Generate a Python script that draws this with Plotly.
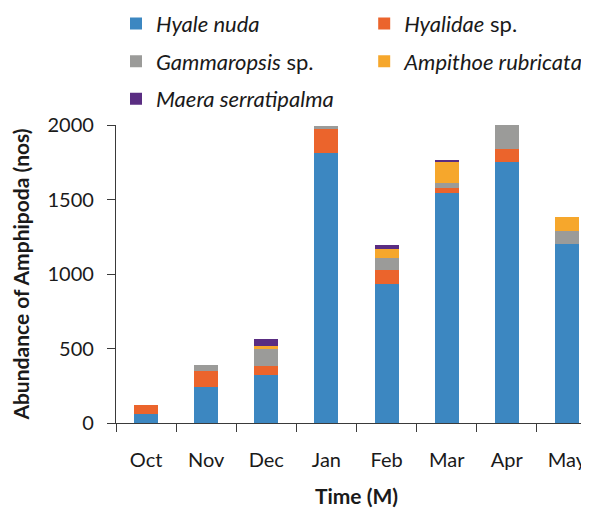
import plotly.graph_objects as go

months = ["Oct", "Nov", "Dec", "Jan", "Feb", "Mar", "Apr", "May"]

hyale_nuda = [60, 240, 320, 1810, 930, 1545, 1755, 1200]
hyalidae_sp = [60, 110, 60, 160, 100, 35, 85, 0]
gammaropsis_sp = [0, 40, 120, 25, 80, 30, 160, 90]
ampithoe_rubricata = [0, 0, 15, 0, 60, 143, 0, 95]
maera_serratipalma = [0, 0, 50, 0, 25, 14, 0, 0]

y_ticks = [0, 500, 1000, 1500, 2000]

FONT = "Lato"
TXT = "#1a1a1a"
AX = "#3a3a3a"
TICK_FS = 20
TITLE_FS = 21
LEG_FS = 22

series = [
    ("<i>Hyale nuda</i>", hyale_nuda, "#3C87C1", "legend", "g1"),
    ("<i>Hyalidae</i> sp.", hyalidae_sp, "#EB642C", "legend2", "g2"),
    ("<i>Gammaropsis</i> sp.", gammaropsis_sp, "#9B9B99", "legend", "g3"),
    ("<i>Ampithoe rubricata</i>", ampithoe_rubricata, "#F6A72C", "legend2", "g4"),
    ("<i>Maera serratipalma</i>", maera_serratipalma, "#5A2D82", "legend", "g5"),
]

fig = go.Figure()
for name, vals, color, leg, grp in series:
    fig.add_trace(go.Bar(
        x=months, y=vals, name=name, width=0.4,
        marker=dict(color=color, line=dict(width=0)),
        legend=leg, legendgroup=grp,
    ))

legend_common = dict(
    xref="paper", yref="paper", yanchor="top", xanchor="left",
    traceorder="grouped", tracegroupgap=6,
    font=dict(family=FONT, size=LEG_FS, color=TXT),
    bgcolor="rgba(0,0,0,0)", itemwidth=30,
)

fig.update_layout(
    width=589, height=508,
    margin=dict(l=108, r=0, t=117, b=93, autoexpand=False),
    barmode="stack",
    plot_bgcolor="white", paper_bgcolor="white",
    font=dict(family=FONT, size=TICK_FS, color=TXT),
    legend=dict(x=0.0, y=1.41, **legend_common),
    legend2=dict(x=0.516, y=1.41, **legend_common),
    xaxis=dict(
        type="category", range=[-0.5, 7.5],
        showline=True, linecolor=AX, linewidth=1.3,
        ticks="outside", tickson="boundaries", ticklen=8, tickcolor=AX, tickwidth=1.3,
        ticklabelstandoff=19, tickangle=0, automargin=False,
        tickfont=dict(family=FONT, size=TICK_FS, color=TXT),
        title=dict(text="<b>Time (M)</b>", font=dict(family=FONT, size=TITLE_FS, color=TXT), standoff=19),
        showgrid=False,
    ),
    yaxis=dict(
        range=[0, 2000], tickvals=y_ticks, automargin=True,
        showline=True, linecolor=AX, linewidth=1.3,
        ticks="outside", ticklen=8, tickcolor=AX, tickwidth=1.3,
        ticklabelstandoff=9,
        tickfont=dict(family=FONT, size=TICK_FS, color=TXT),
        title=dict(text="<b>Abundance of Amphipoda (nos)</b>", font=dict(family=FONT, size=TITLE_FS, color=TXT), standoff=12),
        showgrid=False, zeroline=False,
    ),
)

fig.write_html("out.html")
